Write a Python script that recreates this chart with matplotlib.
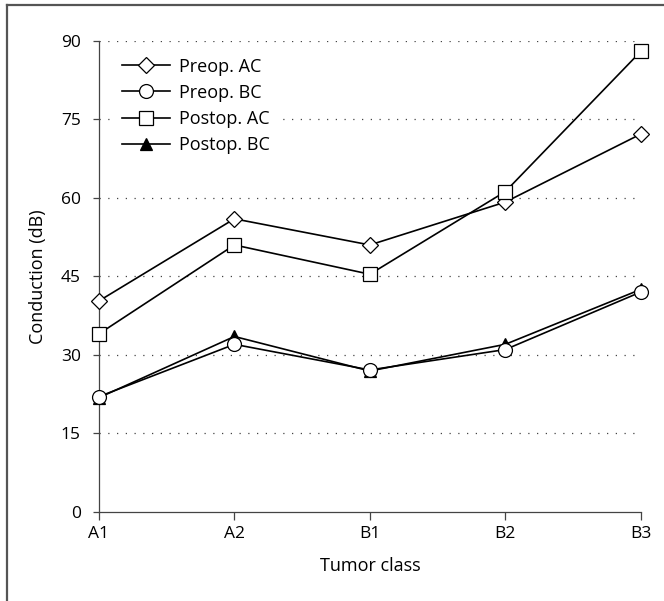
import matplotlib
matplotlib.use("Agg")

import matplotlib.pyplot as plt
from matplotlib.lines import Line2D

plt.rcParams['font.family'] = ['Open Sans', 'DejaVu Sans']

# data
classes = ["A1", "A2", "B1", "B2", "B3"]
preop_ac = [40.3, 56, 51, 59.2, 72.2]
preop_bc = [22, 32, 27.1, 31, 42]
postop_ac = [34, 51, 45.4, 61.2, 88]
postop_bc = [21.8, 33.5, 26.9, 32, 42.5]
yticks = [0, 15, 30, 45, 60, 75, 90]

fig = plt.figure(figsize=(6.64, 6.01), dpi=100)
ax = fig.add_axes([0.149, 0.1486, 0.816, 0.7832])

# partial frame around the figure (left and top only)
fig.add_artist(Line2D([0.0105, 0.0105], [0.0, 0.9917], transform=fig.transFigure,
                      color="#555555", lw=1.6))
fig.add_artist(Line2D([0.0105, 1.0], [0.9917, 0.9917], transform=fig.transFigure,
                      color="#555555", lw=1.6))

x = list(range(len(classes)))
line_kw = dict(color="black", lw=1.2, clip_on=False, markeredgewidth=0.9,
               markeredgecolor="black")

h4, = ax.plot(x, postop_bc, marker="^", ms=9, mfc="black", label="Postop. BC",
              zorder=3, **line_kw)
h2, = ax.plot(x, preop_bc, marker="o", ms=10, mfc="white", label="Preop. BC",
              zorder=4, **line_kw)
h1, = ax.plot(x, preop_ac, marker="D", ms=8.5, mfc="white", label="Preop. AC",
              zorder=4, **line_kw)
h3, = ax.plot(x, postop_ac, marker="s", ms=9.5, mfc="white", label="Postop. AC",
              zorder=4, **line_kw)

ax.set_xlim(0, 4)
ax.set_ylim(0, 90)
ax.set_xticks(x)
ax.set_xticklabels(classes)
ax.set_yticks(yticks)

for v in yticks[1:]:
    ax.axhline(v, color="#444444", lw=0.9, ls=(0, (1, 6)), zorder=1)

for side in ["top", "right"]:
    ax.spines[side].set_visible(False)
for side in ["left", "bottom"]:
    ax.spines[side].set_color("#444444")
    ax.spines[side].set_linewidth(0.9)

ax.tick_params(axis="both", colors="#444444", labelcolor="black", labelsize=12.5,
               width=0.9)
ax.tick_params(axis="y", length=4, pad=9)
ax.tick_params(axis="x", length=6, pad=4)

ax.set_xlabel("Tumor class", fontsize=13, labelpad=11)
ax.set_ylabel("Conduction (dB)", fontsize=13, labelpad=10)

leg = ax.legend(handles=[h1, h2, h3, h4], loc="upper left",
                bbox_to_anchor=(0.03, 0.98), frameon=True, fancybox=False,
                facecolor="white", edgecolor="none", framealpha=1,
                fontsize=13, handlelength=2.65,
                handletextpad=0.5, labelspacing=0.45, borderaxespad=0)

fig.savefig("out.png", dpi=100)
